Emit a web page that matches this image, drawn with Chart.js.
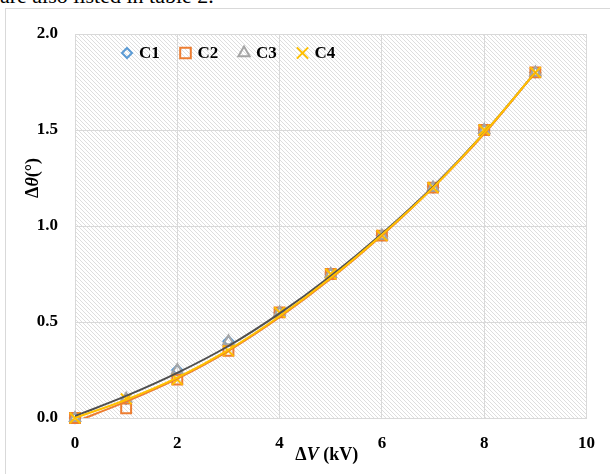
<!DOCTYPE html>
<html>
<head>
<meta charset="utf-8">
<script src="https://cdn.jsdelivr.net/npm/chart.js@4"></script>
<style>
  html, body { margin: 0; padding: 0; background: #fff; overflow: hidden; }
  #wrap { position: relative; width: 610px; height: 474px; overflow: hidden; }
  #caption { position: absolute; left: 0; top: -15px; font: 22px/22px "Liberation Serif", serif; color: #000; white-space: nowrap; }
  #frame { position: absolute; left: 5px; top: 8px; width: 640px; height: 500px; border: 1px solid #d9d9d9; }
  canvas { position: absolute; left: 0; top: 0; }
</style>
</head>
<body>
<div id="wrap">
  <div id="caption">are also listed in table 2.</div>
  <div id="frame"></div>
  <canvas id="chart" width="610" height="474"></canvas>
</div>
<script>
// ΔV (kV)
const voltage = [0, 1, 2, 3, 4, 5, 6, 7, 8, 9]

// Δθ (°) measured, one list per case
const c1 = [0, 0.10, 0.25, 0.40, 0.55, 0.75, 0.95, 1.20, 1.50, 1.80]
const c2 = [0, 0.05, 0.20, 0.35, 0.55, 0.75, 0.95, 1.20, 1.50, 1.80]
const c3 = [0, 0.10, 0.25, 0.40, 0.55, 0.75, 0.95, 1.20, 1.50, 1.80]
const c4 = [0, 0.10, 0.20, 0.35, 0.55, 0.75, 0.95, 1.20, 1.50, 1.80]

// trend curves
const trendDark = [0.01, 0.115, 0.235, 0.375, 0.545, 0.74, 0.96, 1.205, 1.485, 1.80]
const trendOrange = [-0.02, 0.085, 0.205, 0.35, 0.525, 0.725, 0.95, 1.20, 1.48, 1.80]
const trendYellow = [0.0, 0.095, 0.21, 0.355, 0.53, 0.73, 0.955, 1.20, 1.485, 1.80]

const xTicks = [0, 2, 4, 6, 8, 10]
const yTicks = [0, 0.5, 1.0, 1.5, 2.0]

const serif = '"Liberation Serif", "Times New Roman", serif'

function points(ys) {
    return voltage.map((x, i) => ({ x: x, y: ys[i] }))
}

function markerSet(label, ys, color, style, radius, legendRadius, order) {
    return {
        label: label,
        data: points(ys),
        showLine: false,
        pointStyle: style,
        pointRadius: radius,
        pointBorderWidth: 2,
        pointBorderColor: color,
        pointBackgroundColor: 'rgba(0,0,0,0)',
        borderColor: color,
        backgroundColor: 'rgba(0,0,0,0)',
        legendRadius: legendRadius,
        clip: false,
        order: order
    }
}

function trendSet(ys, color, order) {
    return {
        label: 'trend',
        data: points(ys),
        showLine: true,
        borderColor: color,
        borderWidth: 2,
        pointRadius: 0,
        cubicInterpolationMode: 'monotone',
        fill: false,
        order: order
    }
}

function makeHatch(ctx) {
    const tile = document.createElement('canvas')
    tile.width = 4
    tile.height = 4
    const t = tile.getContext('2d')
    t.fillStyle = '#ffffff'
    t.fillRect(0, 0, 4, 4)
    t.fillStyle = '#dedede'
    for (let i = 0; i < 4; i++) t.fillRect(i, i, 1, 1)
    return ctx.createPattern(tile, 'repeat')
}

function drawRich(ctx, parts, cx, cy) {
    const fonts = parts.map(p => (p.italic ? 'italic ' : '') + 'bold 18px ' + serif)
    let total = 0
    parts.forEach((p, i) => { ctx.font = fonts[i]; total += ctx.measureText(p.text).width })
    let x = cx - total / 2
    ctx.textBaseline = 'middle'
    ctx.textAlign = 'left'
    ctx.fillStyle = '#000'
    parts.forEach((p, i) => {
        ctx.font = fonts[i]
        ctx.fillText(p.text, x, cy)
        x += ctx.measureText(p.text).width
    })
}

const plotBackground = {
    id: 'plotBackground',
    beforeDraw(chart) {
        const { ctx, chartArea } = chart
        ctx.save()
        ctx.fillStyle = makeHatch(ctx)
        ctx.fillRect(chartArea.left, chartArea.top, chartArea.right - chartArea.left, chartArea.bottom - chartArea.top)
        ctx.restore()
    }
}

// one-row legend inside the plot, like the original
const innerLegend = {
    id: 'innerLegend',
    afterDatasetsDraw(chart) {
        const { ctx, chartArea } = chart
        const sets = chart.data.datasets.filter(d => d.label !== 'trend')
        ctx.save()
        ctx.font = 'bold 17px ' + serif
        ctx.textBaseline = 'middle'
        ctx.textAlign = 'left'
        let x = chartArea.left + 52
        const y = chartArea.top + 19
        sets.forEach(d => {
            ctx.strokeStyle = d.pointBorderColor
            ctx.fillStyle = 'rgba(0,0,0,0)'
            ctx.lineWidth = 2
            Chart.helpers.drawPoint(ctx, { pointStyle: d.pointStyle, radius: d.legendRadius, rotation: 0, borderWidth: 2 }, x, y)
            ctx.fillStyle = '#000'
            ctx.fillText(d.label, x + 12, y + 1)
            x += 58.5
        })
        ctx.restore()
    }
}

const axisTitles = {
    id: 'axisTitles',
    afterDraw(chart) {
        const { ctx, chartArea } = chart
        ctx.save()
        drawRich(ctx, [{ text: 'Δ' }, { text: 'V', italic: true }, { text: ' (kV)' }],
            (chartArea.left + chartArea.right) / 2 - 4, chartArea.bottom + 37)
        ctx.translate(chartArea.left - 42, chartArea.top + 144)
        ctx.rotate(-Math.PI / 2)
        drawRich(ctx, [{ text: 'Δ' }, { text: 'θ', italic: true }, { text: '(°)' }], 0, 0)
        ctx.restore()
    }
}

new Chart('chart', {
    type: 'scatter',
    data: {
        datasets: [
            markerSet('C1', c1, '#5B9BD5', 'rectRot', 5, 5, 6),
            markerSet('C2', c2, '#ED7D31', 'rect', 7, 7.5, 5),
            markerSet('C3', c3, '#A5A5A5', 'triangle', 6, 6.5, 4),
            markerSet('C4', c4, '#FFC000', 'crossRot', 7.5, 8, 3),
            trendSet(trendDark, '#505050', 2),
            trendSet(trendOrange, '#ED7D31', 1),
            trendSet(trendYellow, '#FFC000', 0)
        ]
    },
    options: {
        responsive: false,
        animation: false,
        layout: { padding: { left: 0, right: 20, top: 34, bottom: 0 } },
        plugins: {
            tooltip: { enabled: false },
            legend: { display: false }
        },
        scales: {
            x: {
                type: 'linear',
                min: 0,
                max: 10,
                afterFit: scale => { scale.height = 56 },
                afterBuildTicks: scale => { scale.ticks = xTicks.map(v => ({ value: v })) },
                grid: { color: '#d9d9d9', drawTicks: false },
                border: { color: '#d9d9d9' },
                ticks: {
                    padding: 15,
                    color: '#000',
                    font: { family: serif, size: 17, weight: 'bold' },
                    callback: v => String(v)
                }
            },
            y: {
                type: 'linear',
                min: 0,
                max: 2,
                afterFit: scale => { scale.width = 75 },
                afterBuildTicks: scale => { scale.ticks = yTicks.map(v => ({ value: v })) },
                grid: { color: '#d9d9d9', drawTicks: false },
                border: { color: '#d9d9d9' },
                ticks: {
                    padding: 17,
                    color: '#000',
                    font: { family: serif, size: 17, weight: 'bold' },
                    callback: v => v.toFixed(1)
                }
            }
        }
    },
    plugins: [plotBackground, innerLegend, axisTitles]
})
</script>
</body>
</html>
